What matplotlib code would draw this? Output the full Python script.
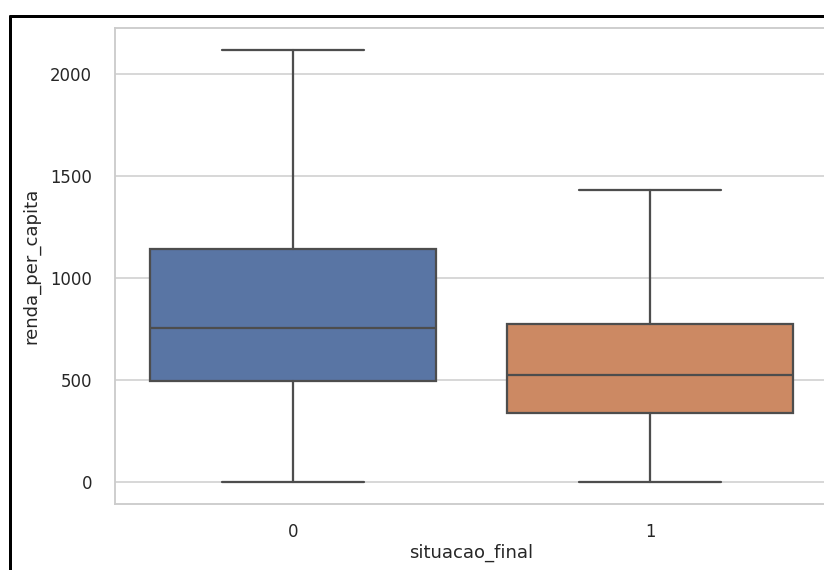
import matplotlib
matplotlib.use("Agg")
import matplotlib.pyplot as plt
from matplotlib.lines import Line2D
import seaborn as sns

# boxplot summary (renda_per_capita by situacao_final)
categorias = ["0", "1"]
whis_lo = [0, 0]
q1 = [495, 338]
mediana = [755, 525]
q3 = [1142, 775]
whis_hi = [2120, 1431]

sns.set_theme(style="whitegrid")
cores = [sns.desaturate(c, 0.75) for c in sns.color_palette("deep", 2)]

DPI = 108
fig = plt.figure(figsize=(824 / DPI, 570 / DPI), dpi=DPI)
ax = fig.add_axes([114.5 / 824, 1 - 504 / 570, 714 / 824, (504 - 28) / 570])

stats = []
for i, cat in enumerate(categorias):
    stats.append({"label": cat, "whislo": whis_lo[i], "q1": q1[i], "med": mediana[i],
                  "q3": q3[i], "whishi": whis_hi[i], "fliers": []})

linha = dict(color="0.3", linewidth=1.5)
bp = ax.bxp(stats, positions=range(len(categorias)), widths=0.8, patch_artist=True,
            showfliers=False, boxprops=linha, medianprops=linha,
            whiskerprops=linha, capprops=linha, capwidths=0.4)
for caixa, cor in zip(bp["boxes"], cores):
    caixa.set_facecolor(cor)
    caixa.set_edgecolor("0.3")

ax.set_xlim(-0.5, 1.5)
ax.set_ylim(-106, 2226)
ax.set_yticks([0, 500, 1000, 1500, 2000])
ax.xaxis.grid(False)
ax.tick_params(axis="y", length=0, pad=15)
ax.tick_params(axis="x", length=0, pad=12.5)
ax.set_xlabel("situacao_final", labelpad=2)
ax.set_ylabel("renda_per_capita", labelpad=6.5)

# screenshot frame
fig.add_artist(Line2D([9.5 / 824, 9.5 / 824], [0, 1 - 16 / 570], color="black", lw=2))
fig.add_artist(Line2D([9.5 / 824, 1], [1 - 16 / 570, 1 - 16 / 570], color="black", lw=2))

fig.savefig("out.png", dpi=DPI)
